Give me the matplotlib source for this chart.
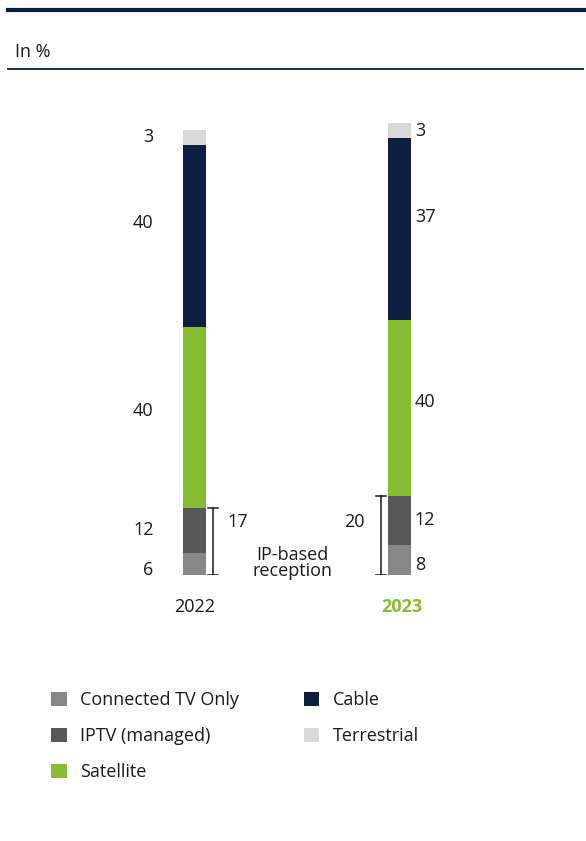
import matplotlib.pyplot as plt
from matplotlib.lines import Line2D
from matplotlib.patches import Patch

plt.rcParams['font.family'] = ['Open Sans', 'DejaVu Sans']

years = ['2022', '2023']
categories = ['Connected TV Only', 'IPTV (managed)', 'Satellite', 'Cable', 'Terrestrial']
# bar heights as drawn
shares = {
    'Connected TV Only': [4.9, 6.8],
    'IPTV (managed)': [10.2, 10.9],
    'Satellite': [40.6, 39.5],
    'Cable': [40.8, 40.8],
    'Terrestrial': [3.4, 3.4],
}
# printed (rounded) labels
labels = {
    'Connected TV Only': [6, 8],
    'IPTV (managed)': [12, 12],
    'Satellite': [40, 40],
    'Cable': [40, 37],
    'Terrestrial': [3, 3],
}
ip_based = [17, 20]

colors = ['#878787', '#575757', '#86bc31', '#0c1f40', '#d9d9d9']
text_color = '#1a1a1a'
navy = '#0c1f40'
green = '#86bc31'

W, H = 586, 841
fig = plt.figure(figsize=(W / 100, H / 100), dpi=100)

# axes placed so that bars land where they do in the reference
px_per_unit = 4.46
y0_px = 575.3
ymax = 110
ax = fig.add_axes([0, (H - y0_px) / H, 1, ymax * px_per_unit / H])
x_scale = 205.0
x0_px = 194.5
ax.set_xlim(-x0_px / x_scale, (W - x0_px) / x_scale)
ax.set_ylim(0, ymax)
ax.axis('off')

# small vertical nudges of the value labels (in data units)
nudge = {'Connected TV Only': -1.2, 'IPTV (managed)': 0.2, 'Satellite': 1.4,
         'Cable': 2.8, 'Terrestrial': 0}

bar_w = 23 / x_scale
xs = [0, 1]
bottoms = [0, 0]
for cat, col in zip(categories, colors):
    vals = shares[cat]
    ax.bar(xs, vals, bar_w, bottom=bottoms, color=col, label=cat, linewidth=0)
    for i, v in enumerate(vals):
        yc = bottoms[i] + v / 2 + nudge[cat]
        if i == 0:
            ax.text(xs[i] - 0.2, yc, str(labels[cat][i]), ha='right', va='center',
                    fontsize=13, color=text_color)
        else:
            ax.text(xs[i] + 0.075, yc, str(labels[cat][i]), ha='left', va='center',
                    fontsize=13, color=text_color)
    bottoms = [b + v for b, v in zip(bottoms, vals)]

# brackets for IP-based reception
ip_top = [shares['Connected TV Only'][i] + shares['IPTV (managed)'][i] for i in range(2)]
cap = 0.025
for i, side in enumerate([1, -1]):
    bx = xs[i] + side * 0.092
    ax.plot([bx, bx], [0, ip_top[i]], color=text_color, lw=1.1)
    for yy in (0, ip_top[i]):
        ax.plot([bx - cap, bx + cap], [yy, yy], color=text_color, lw=1.1)
    if side == 1:
        ax.text(bx + 0.07, 12.0, str(ip_based[i]), ha='left', va='center',
                fontsize=13, color=text_color)
    else:
        ax.text(bx - 0.08, 12.0, str(ip_based[i]), ha='right', va='center',
                fontsize=13, color=text_color)
ax.text(0.476, 2.8, 'IP-based\nreception', ha='center', va='center',
        fontsize=13, color=text_color, linespacing=0.85)

# year labels
ax.text(xs[0], -7.0, years[0], ha='center', va='center', fontsize=13, color=text_color)
ax.text(xs[1] + 0.01, -7.0, years[1], ha='center', va='center', fontsize=13,
        color=green, fontweight='bold')

# header rules and unit
fig.add_artist(Line2D([8 / W, 1], [1 - 10 / H, 1 - 10 / H], color=navy, lw=3))
fig.add_artist(Line2D([8 / W, 583 / W], [1 - 69 / H, 1 - 69 / H], color='#1a2a50', lw=1.4))
fig.text(15 / W, 1 - 52 / H, 'In %', ha='left', va='center', fontsize=13, color=text_color)

handles = [Patch(facecolor=c, edgecolor='none') for c in colors]
fig.legend(handles, categories, ncol=2, loc='upper left',
           bbox_to_anchor=(35 / W, 1 - 675 / H), frameon=False,
           fontsize=13, handlelength=0.85, handleheight=0.85,
           handletextpad=0.75, labelspacing=1.0, columnspacing=3.6,
           labelcolor=text_color)

fig.savefig('out.png', dpi=100)
